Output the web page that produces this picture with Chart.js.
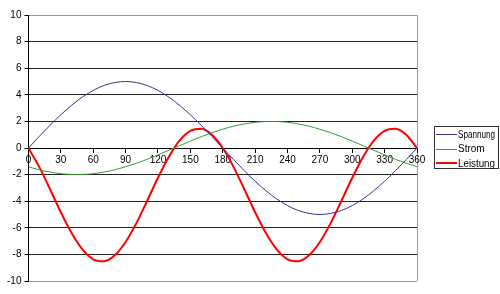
<!DOCTYPE html>
<html>
<head>
<meta charset="utf-8">
<script src="https://cdn.jsdelivr.net/npm/chart.js@4/dist/chart.umd.min.js"></script>
<style>
  html, body { margin: 0; padding: 0; background: #fff; }
  #wrap { width: 500px; height: 294px; position: relative; }
</style>
</head>
<body>
<div id="wrap"><canvas id="chart"></canvas></div>
<script>
// angle in degrees
const winkel = [0, 10, 20, 30, 40, 50, 60, 70, 80, 90, 100, 110, 120, 130, 140, 150, 160, 170, 180,
    190, 200, 210, 220, 230, 240, 250, 260, 270, 280, 290, 300, 310, 320, 330, 340, 350, 360];

const spannung = [0, 0.87, 1.71, 2.5, 3.21, 3.83, 4.33, 4.70, 4.92, 5, 4.92, 4.70, 4.33, 3.83, 3.21, 2.5, 1.71, 0.87, 0,
    -0.87, -1.71, -2.5, -3.21, -3.83, -4.33, -4.70, -4.92, -5, -4.92, -4.70, -4.33, -3.83, -3.21, -2.5, -1.71, -0.87, 0];

const strom = [-1.41, -1.64, -1.81, -1.93, -1.99, -1.99, -1.93, -1.81, -1.64, -1.41, -1.15, -0.85, -0.52, -0.17, 0.17, 0.52, 0.85, 1.15, 1.41,
    1.64, 1.81, 1.93, 1.99, 1.99, 1.93, 1.81, 1.64, 1.41, 1.15, 0.85, 0.52, 0.17, -0.17, -0.52, -0.85, -1.15, -1.41];

const leistung = [0, -1.42, -3.10, -4.83, -6.40, -7.63, -8.37, -8.52, -8.07, -7.07, -5.65, -3.97, -2.24, -0.67, 0.56, 1.29, 1.45, 1.00, 0,
    -1.42, -3.10, -4.83, -6.40, -7.63, -8.37, -8.52, -8.07, -7.07, -5.65, -3.97, -2.24, -0.67, 0.56, 1.29, 1.45, 1.00, 0];

const seriesNames = ["Spannung", "Strom", "Leistung"];

function toPoints(arr) {
    return arr.map((v, i) => ({ x: winkel[i], y: v }));
}

// Excel style legend box on the right
const boxLegend = {
    id: "boxLegend",
    afterDraw(chart) {
        const ctx = chart.ctx;
        const left = chart.chartArea.right + 17;
        const top = 126;
        ctx.save();
        ctx.strokeStyle = "#333";
        ctx.lineWidth = 1;
        ctx.strokeRect(left + 0.5, top + 0.5, 64, 42);
        ctx.font = "10px 'Liberation Sans', Arial, sans-serif";
        ctx.textBaseline = "middle";
        ctx.fillStyle = "#000";
        chart.data.datasets.forEach((ds, i) => {
            const y = top + 8 + i * 14.5;
            ctx.strokeStyle = ds.borderColor;
            ctx.lineWidth = ds.borderWidth;
            ctx.beginPath();
            ctx.moveTo(left + 2, Math.round(y) + (ds.borderWidth % 2 ? 0.5 : 0));
            ctx.lineTo(left + 23, Math.round(y) + (ds.borderWidth % 2 ? 0.5 : 0));
            ctx.stroke();
            ctx.fillText(ds.label, left + 24, y + 1, 37);
        });
        ctx.restore();
    }
};

Chart.defaults.font.family = "'Liberation Sans', Arial, sans-serif";
Chart.defaults.font.size = 10;
Chart.defaults.color = "#000";

new Chart(document.getElementById("chart"), {
    type: "line",
    data: {
        datasets: [
            { label: seriesNames[0], data: toPoints(spannung), borderColor: "#333399", borderWidth: 1 },
            { label: seriesNames[1], data: toPoints(strom), borderColor: "#339933", borderWidth: 1 },
            { label: seriesNames[2], data: toPoints(leistung), borderColor: "#ff0000", borderWidth: 2 }
        ]
    },
    options: {
        responsive: true,
        maintainAspectRatio: false,
        animation: false,
        elements: {
            point: { radius: 0 },
            line: { cubicInterpolationMode: "monotone" }
        },
        layout: { padding: { left: 4, right: 83, top: 15, bottom: 13 } },
        plugins: {
            tooltip: { enabled: false },
            legend: { display: false }
        },
        scales: {
            x: {
                type: "linear",
                position: { y: 0 },
                min: 0,
                max: 360,
                ticks: { stepSize: 30, padding: 2, maxRotation: 0 },
                border: { color: "#000", width: 1 },
                grid: {
                    drawOnChartArea: true,
                    color: ctx => ctx.tick && ctx.tick.value === 360 ? "#999" : "rgba(0,0,0,0)",
                    tickColor: "#000",
                    tickLength: 4
                }
            },
            y: {
                min: -10,
                max: 10,
                ticks: { stepSize: 2, padding: 3 },
                border: { color: "#000", width: 1 },
                grid: {
                    color: ctx => (ctx.tick && Math.abs(ctx.tick.value) === 10) ? "#999" : "#222",
                    tickColor: "#000",
                    tickLength: 4
                }
            }
        }
    },
    plugins: [boxLegend]
});
</script>
</body>
</html>
